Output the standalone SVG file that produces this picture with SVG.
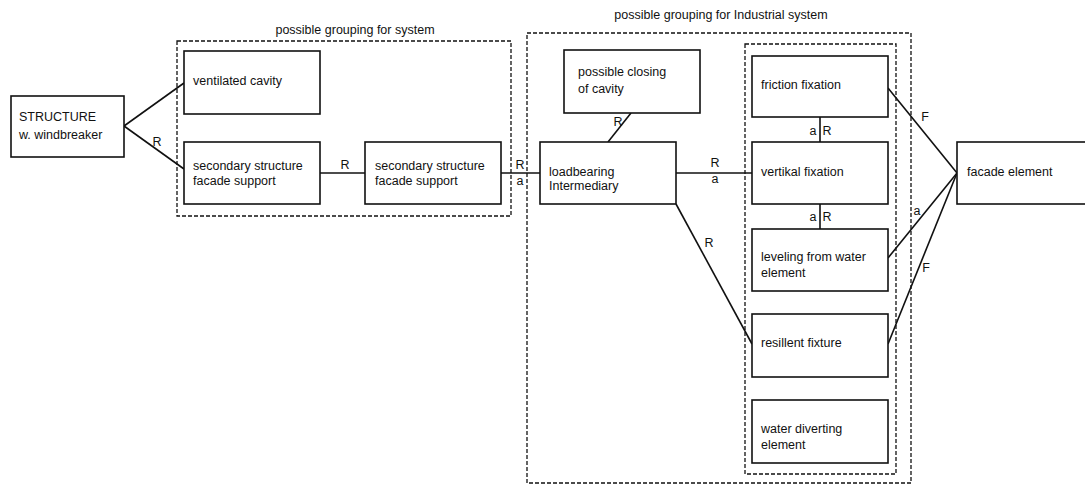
<svg xmlns="http://www.w3.org/2000/svg" width="1085" height="485" viewBox="0 0 1085 485">
<style>
.box{fill:#fff;stroke:#111;stroke-width:1.6}
.grp{fill:none;stroke:#111;stroke-width:1.3;stroke-dasharray:4 2}
.con{stroke:#111;stroke-width:1.6;fill:none}
text{font-family:"Liberation Sans",Arial,sans-serif;font-size:12.5px;fill:#111}
.lbl{text-anchor:middle}
</style>
<rect width="1085" height="485" fill="#fff"/>
<g id="groups">
<rect class="grp" x="177" y="41" width="334" height="175"/>
<text class="lbl" x="355" y="34">possible grouping for system</text>
<rect class="grp" x="527" y="33" width="384" height="450"/>
<text class="lbl" x="721" y="19">possible grouping for Industrial system</text>
<rect class="grp" x="745" y="44" width="151" height="430"/>
</g>
<g id="connectors">
<line class="con" x1="124" y1="126" x2="184" y2="83"/>
<line class="con" x1="124" y1="126" x2="184" y2="169"/>
<text class="lbl" x="157" y="146">R</text>
<line class="con" x1="320" y1="173" x2="365" y2="173"/>
<text class="lbl" x="345" y="169">R</text>
<line class="con" x1="501" y1="173" x2="540" y2="173"/>
<text class="lbl" x="520" y="169">R</text>
<text class="lbl" x="520" y="185">a</text>
<line class="con" x1="631" y1="113" x2="608" y2="142"/>
<text class="lbl" x="618" y="126">R</text>
<line class="con" x1="676" y1="173" x2="752" y2="173"/>
<text class="lbl" x="715" y="167">R</text>
<text class="lbl" x="715" y="183">a</text>
<line class="con" x1="676" y1="204" x2="752" y2="344"/>
<text class="lbl" x="709" y="247">R</text>
<line class="con" x1="820" y1="117" x2="820" y2="142"/>
<text class="lbl" x="813" y="135">a</text>
<text class="lbl" x="827" y="135">R</text>
<line class="con" x1="820" y1="204" x2="820" y2="229"/>
<text class="lbl" x="813" y="221">a</text>
<text class="lbl" x="827" y="221">R</text>
<line class="con" x1="888" y1="88" x2="957" y2="173"/>
<text class="lbl" x="925" y="121">F</text>
<line class="con" x1="888" y1="258" x2="957" y2="173"/>
<text class="lbl" x="917" y="215">a</text>
<line class="con" x1="888" y1="344" x2="957" y2="173"/>
<text class="lbl" x="926" y="272">F</text>
</g>
<g id="structure"><rect class="box" x="11" y="96" width="113" height="61"/><text x="19" y="121">STRUCTURE</text><text x="19" y="139">w. windbreaker</text></g>
<g id="ventilated-cavity"><rect class="box" x="184" y="51" width="136" height="63"/><text x="193" y="85">ventilated cavity</text></g>
<g id="secondary-1"><rect class="box" x="184" y="142" width="136" height="62"/><text x="193" y="170">secondary structure</text><text x="193" y="185">facade support</text></g>
<g id="secondary-2"><rect class="box" x="365" y="142" width="136" height="62"/><text x="375" y="170">secondary structure</text><text x="375" y="185">facade support</text></g>
<g id="closing"><rect class="box" x="564" y="50" width="136" height="63"/><text x="578" y="76">possible closing</text><text x="578" y="93">of cavity</text></g>
<g id="loadbearing"><rect class="box" x="540" y="142" width="136" height="62"/><text x="549" y="176">loadbearing</text><text x="549" y="190">Intermediary</text></g>
<g id="friction"><rect class="box" x="752" y="56" width="136" height="61"/><text x="761" y="89">friction fixation</text></g>
<g id="vertikal"><rect class="box" x="752" y="142" width="136" height="62"/><text x="761" y="176">vertikal fixation</text></g>
<g id="leveling"><rect class="box" x="752" y="229" width="136" height="62"/><text x="761" y="261">leveling from water</text><text x="761" y="277">element</text></g>
<g id="resillent"><rect class="box" x="752" y="314" width="136" height="63"/><text x="761" y="347">resillent fixture</text></g>
<g id="water-diverting"><rect class="box" x="752" y="400" width="136" height="63"/><text x="761" y="433">water diverting</text><text x="761" y="449">element</text></g>
<g id="facade-element"><rect class="box" x="957" y="142" width="140" height="62"/><text x="967" y="176">facade element</text></g>
</svg>
